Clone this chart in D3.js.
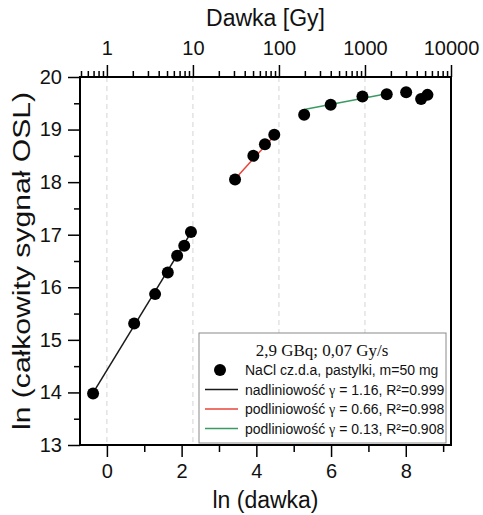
<!DOCTYPE html>
<html>
<head>
<meta charset="utf-8">
<script src="https://cdn.jsdelivr.net/npm/d3@7"></script>
<style>
  body { margin: 0; background: white; }
  text { font-family: "Liberation Sans", Arial, sans-serif; fill: #111; }
</style>
</head>
<body>
<div id="chart"></div>
<script>
// Size of the page and of the plot frame
const width = 483;
const height = 515;
const margin = { top: 77, right: 32, bottom: 70, left: 80 };

// Data: ln(dose) and ln(total OSL signal)
const blackX = [-0.37, 0.73, 1.29, 1.63, 1.88, 2.07, 2.25];
const blackY = [13.98, 15.31, 15.87, 16.28, 16.60, 16.79, 17.05];
const redX = [3.43, 3.92, 4.23, 4.48];
const redY = [18.05, 18.50, 18.72, 18.90];
const greenX = [5.28, 5.99, 6.84, 7.49, 8.01, 8.41, 8.58];
const greenY = [19.28, 19.47, 19.63, 19.67, 19.71, 19.58, 19.66];

// Fitted lines (start and end)
const fitBlack = [[-0.37, 13.99], [2.25, 17.04]];
const fitRed = [[3.43, 18.06], [4.53, 18.92]];
const fitGreen = [[5.28, 19.38], [7.49, 19.68]];

// Tick labels
const bottomTicks = [0, 2, 4, 6, 8];
const bottomMinor = [1, 3, 5, 7, 9];
const leftTicks = [13, 14, 15, 16, 17, 18, 19, 20];
const leftMinor = [13.5, 14.5, 15.5, 16.5, 17.5, 18.5, 19.5];
const topTicks = [1, 10, 100, 1000, 10000];

const legendTitle = "2,9 GBq; 0,07 Gy/s";
const legendItems = [
  { kind: "dot", color: "black", text: "NaCl cz.d.a, pastylki, m=50 mg" },
  { kind: "line", color: "#1a1a1a", pre: "nadliniowość ", g: "1.16", r: "0.999" },
  { kind: "line", color: "#e8453c", pre: "podliniowość ", g: "0.66", r: "0.998" },
  { kind: "line", color: "#3b9a63", pre: "podliniowość ", g: "0.13", r: "0.908" }
];

const svg = d3.select("#chart").append("svg")
  .attr("width", width)
  .attr("height", height);

const x0 = margin.left;
const x1 = width - margin.right;
const y0 = height - margin.bottom;
const y1 = margin.top;

const x = d3.scaleLinear().domain([-0.72, Math.log(10000)]).range([x0, x1]);
const xTop = d3.scaleLog().domain([Math.exp(-0.72), 10000]).range([x0, x1]);
const y = d3.scaleLinear().domain([13, 20]).range([y0, y1]);

// minor ticks on the top (log) axis
const topMinor = [];
[0.1, 1, 10, 100, 1000].forEach(dec => {
  d3.range(2, 10).forEach(k => {
    const v = dec * k;
    if (v >= Math.exp(-0.72) && v < 10000 && !topTicks.includes(v)) topMinor.push(v);
  });
});

// dashed grid lines at the decades
svg.append("g")
  .selectAll("line")
  .data(topTicks.slice(0, 4))
  .enter().append("line")
  .attr("x1", d => x(Math.log(d)))
  .attr("x2", d => x(Math.log(d)))
  .attr("y1", y1)
  .attr("y2", y0)
  .attr("stroke", "#d4d4d4")
  .attr("stroke-width", 1)
  .attr("stroke-dasharray", "5,4");

// Axes
function styleAxis(g) {
  g.select(".domain").remove();
  g.selectAll(".tick line").attr("stroke", "black").attr("stroke-width", 1.5);
  g.selectAll(".tick text").style("font-size", "20px").attr("fill", "#111");
}

svg.append("g")
  .attr("transform", `translate(0,${y0})`)
  .call(d3.axisBottom(x).tickValues(bottomTicks).tickSize(12).tickPadding(7).tickFormat(d3.format("d")))
  .call(styleAxis);
svg.append("g")
  .attr("transform", `translate(0,${y0})`)
  .call(d3.axisBottom(x).tickValues(bottomMinor).tickSize(7).tickFormat(""))
  .call(styleAxis);

svg.append("g")
  .attr("transform", `translate(${x0},0)`)
  .call(d3.axisLeft(y).tickValues(leftTicks).tickSize(12).tickPadding(6).tickFormat(d3.format("d")))
  .call(styleAxis);
svg.append("g")
  .attr("transform", `translate(${x0},0)`)
  .call(d3.axisLeft(y).tickValues(leftMinor).tickSize(6).tickFormat(""))
  .call(styleAxis);

svg.append("g")
  .attr("transform", `translate(0,${y1})`)
  .call(d3.axisTop(xTop).tickValues(topTicks).tickSize(12).tickPadding(10).tickFormat(d3.format("d")))
  .call(styleAxis);
svg.append("g")
  .attr("transform", `translate(0,${y1})`)
  .call(d3.axisTop(xTop).tickValues(topMinor).tickSize(6).tickFormat(""))
  .call(styleAxis);

// frame
svg.append("rect")
  .attr("x", x0).attr("y", y1)
  .attr("width", x1 - x0).attr("height", y0 - y1)
  .attr("fill", "none")
  .attr("stroke", "black")
  .attr("stroke-width", 2);

// Axis titles
svg.append("text")
  .attr("x", (x0 + x1) / 2).attr("y", 26)
  .attr("text-anchor", "middle")
  .style("font-size", "23px")
  .text("Dawka [Gy]");

svg.append("text")
  .attr("x", (x0 + x1) / 2).attr("y", 508)
  .attr("text-anchor", "middle")
  .style("font-size", "23px")
  .text("ln (dawka)");

// the y title is drawn stretched along its length, as in the original
svg.append("text")
  .attr("transform", `translate(30,261) rotate(-90)`)
  .attr("text-anchor", "middle")
  .attr("textLength", 338)
  .attr("lengthAdjust", "spacingAndGlyphs")
  .style("font-size", "23px")
  .text("ln (całkowity sygnał OSL)");

// Fit lines
const line = d3.line().x(d => x(d[0])).y(d => y(d[1]));
[[fitBlack, "#1a1a1a"], [fitRed, "#e8453c"], [fitGreen, "#3b9a63"]].forEach(([pts, col]) => {
  svg.append("path")
    .attr("d", line(pts))
    .attr("fill", "none")
    .attr("stroke", col)
    .attr("stroke-width", 1.5);
});

// Points
const allPts = []
  .concat(blackX.map((v, i) => [v, blackY[i]]))
  .concat(redX.map((v, i) => [v, redY[i]]))
  .concat(greenX.map((v, i) => [v, greenY[i]]));

svg.selectAll(".pt")
  .data(allPts)
  .enter().append("circle")
  .attr("class", "pt")
  .attr("cx", d => x(d[0]))
  .attr("cy", d => y(d[1]))
  .attr("r", 6)
  .attr("fill", "black");

// Legend
const lg = svg.append("g");
lg.append("rect")
  .attr("x", 199).attr("y", 333)
  .attr("width", 247).attr("height", 110)
  .attr("fill", "white")
  .attr("stroke", "#8a8a8a")
  .attr("stroke-width", 1);

lg.append("text")
  .attr("x", 322).attr("y", 356)
  .attr("text-anchor", "middle")
  .style("font-family", "'Liberation Serif', 'Times New Roman', serif")
  .style("font-size", "17px")
  .text(legendTitle);

legendItems.forEach((it, i) => {
  const cy = 370 + i * 19.5;
  if (it.kind === "dot") {
    lg.append("circle").attr("cx", 220).attr("cy", cy).attr("r", 6).attr("fill", it.color);
  } else {
    lg.append("line")
      .attr("x1", 205).attr("x2", 238)
      .attr("y1", cy).attr("y2", cy)
      .attr("stroke", it.color).attr("stroke-width", 1.3);
  }
  const t = lg.append("text")
    .attr("x", 245).attr("y", cy + 5)
    .style("font-size", "14px");
  if (it.kind === "dot") {
    t.text(it.text);
  } else {
    t.append("tspan").text(it.pre);
    t.append("tspan")
      .style("font-family", "'Liberation Serif', serif")
      .text("γ");
    t.append("tspan").text(` = ${it.g}, R²=${it.r}`);
  }
});
</script>
</body>
</html>
